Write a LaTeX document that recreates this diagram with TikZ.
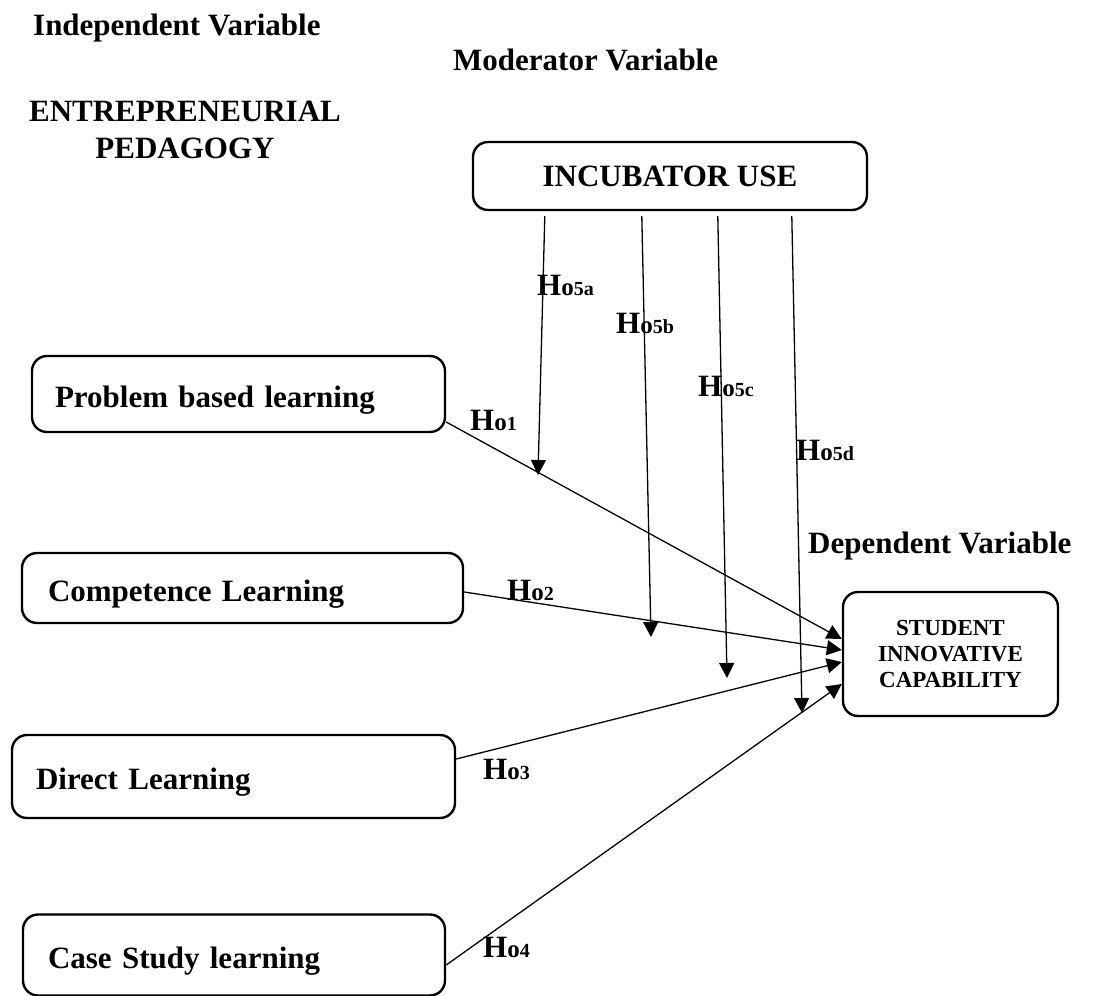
\documentclass[tikz,border=0pt]{standalone}
\usepackage{fontspec}
\setmainfont{Liberation Serif}
\usetikzlibrary{arrows.meta,positioning,calc}

% Hypothesis label: big H, smaller o, then the index
\newcommand{\hyp}[1]{{\fontsize{31}{31}\selectfont H}{\fontsize{25}{25}\selectfont o}{\fontsize{20}{20}\selectfont #1}}

\begin{document}
\begin{tikzpicture}[x=1pt, y=-1pt,
    every node/.style={font=\bfseries\fontsize{31}{37}\selectfont},
    varbox/.style={draw, line width=2.4pt, rounded corners=15pt, inner ysep=0pt},
    ivbox/.style={varbox, align=left, text height=31pt, text depth=5pt},
    link/.style={line width=1.3pt, -{Triangle[length=15pt,width=15pt]}},
    hlabel/.style={anchor=base west, inner sep=0pt}
]
\useasboundingbox (0,0) rectangle (1096,996);

% Headings
\node[anchor=base west, inner sep=0pt] (indep) at (33,35) {Independent Variable};
\node[anchor=base west, inner sep=0pt] (moder) at (453,70) {Moderator Variable};
\node[align=center, inner sep=0pt] (pedag) at (185,130) {ENTREPRENEURIAL\\PEDAGOGY};
\node[anchor=base west, inner sep=0pt] (depen) at (808,553) {Dependent Variable};

% Boxes
\node[varbox, minimum width=394pt, minimum height=68pt] (inc) at (670,176) {INCUBATOR USE};
\node[ivbox, text width=367pt, inner xsep=23pt, minimum height=76pt] (pbl) at (238.5,394) {Problem based learning};
\node[ivbox, text width=389pt, inner xsep=26pt, minimum height=70pt] (comp) at (242.5,588) {Competence Learning};
\node[ivbox, text width=395pt, inner xsep=24pt, minimum height=83pt] (dir) at (233.5,776.5) {Direct Learning};
\node[ivbox, text width=372pt, inner xsep=25pt, minimum height=81pt] (case) at (234,955) {Case Study learning};
\node[varbox, minimum width=215pt, minimum height=124pt, align=center,
      font=\bfseries\fontsize{23}{26}\selectfont] (sic) at (950.5,654) {STUDENT\\INNOVATIVE\\CAPABILITY};

% Direct paths
\coordinate (pbl-out) at ($(pbl.east)+(0,28)$);
\coordinate (comp-out) at ($(comp.east)+(0,4)$);
\coordinate (dir-out) at ($(dir.east)+(0,-17.5)$);
\coordinate (case-out) at ($(case.east)+(0,10)$);
\foreach \s/\o in {1/pbl-out, 2/comp-out, 3/dir-out, 4/case-out} {
    \draw[link] (\o) -- ($(sic.west)+(0,{(\s==1)*(-15)+(\s==2)*(-4)+(\s==3)*8+(\s==4)*30})$) coordinate (sic-in\s);
}

% Moderator paths
\foreach \n/\dx/\x/\y in {a/73/538/475, b/170/651/637, c/246/727/678, d/320/802/713} {
    \coordinate (top-\n) at ($(inc.south west)+(\dx,5)$);
    \coordinate (tip-\n) at (\x,\y);
    \draw[link] (top-\n) -- (tip-\n);
}

% Hypothesis labels
\foreach \n/\s/\x/\y in {h1/1/470/430, h2/2/507/600, h3/3/483/779, h4/4/483/957,
                         h5a/5a/537/295, h5b/5b/616/333, h5c/5c/698/396, h5d/5d/796/460} {
    \node[hlabel] (\n) at (\x,\y) {\hyp{\s}};
}
\end{tikzpicture}
\end{document}
